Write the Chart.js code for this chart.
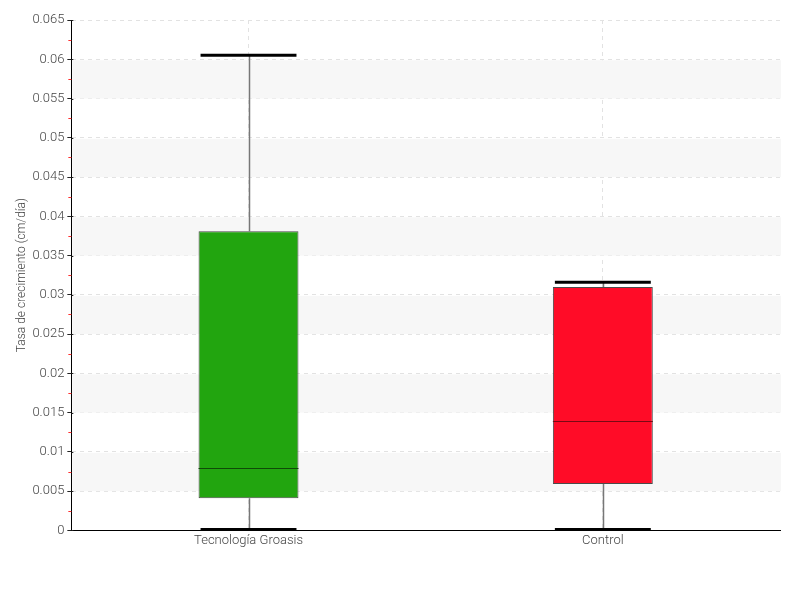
<!DOCTYPE html>
<html>
<head>
<meta charset="utf-8">
<script src="https://cdn.jsdelivr.net/npm/chart.js@4"></script>
<style>
  body { margin: 0; background: #fff; }
  #wrap { width: 800px; height: 600px; }
</style>
</head>
<body>
<div id="wrap"><canvas id="boxChart" width="800" height="600"></canvas></div>
<script>
const categories = ["Tecnología Groasis", "Control"];
const mins = [0.0001, 0.0001];
const q1s = [0.0041, 0.0059];
const medians = [0.0079, 0.0139];
const q3s = [0.0381, 0.031];
const maxs = [0.0605, 0.0316];
const boxColors = ["#22a50f", "#ff0c27"];
const medianColors = ["#0f4a08", "#7a0a14"];
const yTitle = "Tasa de crecimiento (cm/día)";

const fontFamily = "'Liberation Sans Narrow', Roboto, sans-serif";

// alternating light bands + red minor ticks on the y axis
const bandsPlugin = {
  id: "bands",
  beforeDatasetsDraw(chart) {
    const { ctx, chartArea, scales } = chart;
    const y = scales.y;
    ctx.save();
    ctx.fillStyle = "#f7f7f7";
    for (let v = 0.005; v < 0.065; v += 0.01) {
      const top = y.getPixelForValue(v + 0.005);
      const bot = y.getPixelForValue(v);
      ctx.fillRect(chartArea.left + 1, top + 1, chartArea.right - chartArea.left, bot - top - 1);
    }
    ctx.restore();
  },
  afterDraw(chart) {
    const { ctx, chartArea, scales } = chart;
    const y = scales.y;
    ctx.save();
    ctx.strokeStyle = "#ff3030";
    ctx.lineWidth = 1;
    for (let i = 0; i < 13; i++) {
      const py = Math.round(y.getPixelForValue(0.0025 + i * 0.005)) + 0.5;
      ctx.beginPath();
      ctx.moveTo(chartArea.left - 3, py);
      ctx.lineTo(chartArea.left, py);
      ctx.stroke();
    }
    ctx.strokeStyle = "#222";
    for (let i = 0; i <= 13; i++) {
      const py = Math.round(y.getPixelForValue(i * 0.005)) + 0.5;
      ctx.beginPath();
      ctx.moveTo(chartArea.left, py);
      ctx.lineTo(chartArea.left + 2, py);
      ctx.stroke();
    }
    ctx.restore();
  }
};

// whiskers, caps and medians drawn from the data
const boxPlugin = {
  id: "boxExtras",
  beforeDatasetsDraw(chart) {
    const { ctx, scales } = chart;
    const x = scales.x, y = scales.y;
    ctx.save();
    categories.forEach((c, i) => {
      const cx = Math.round(x.getPixelForValue(i)) + 0.5;
      ctx.strokeStyle = "#777";
      ctx.lineWidth = 1.5;
      ctx.beginPath();
      ctx.moveTo(cx, y.getPixelForValue(maxs[i]));
      ctx.lineTo(cx, y.getPixelForValue(q3s[i]));
      ctx.moveTo(cx, y.getPixelForValue(q1s[i]));
      ctx.lineTo(cx, y.getPixelForValue(mins[i]));
      ctx.stroke();
    });
    ctx.restore();
  },
  afterDatasetsDraw(chart) {
    const { ctx, scales } = chart;
    const x = scales.x, y = scales.y;
    const meta = chart.getDatasetMeta(0);
    ctx.save();
    categories.forEach((c, i) => {
      const bar = meta.data[i];
      const half = bar.width / 2;
      const cx = x.getPixelForValue(i);
      ctx.strokeStyle = "#000";
      ctx.lineWidth = 3;
      [maxs[i], mins[i]].forEach((v) => {
        const py = y.getPixelForValue(v);
        ctx.beginPath();
        ctx.moveTo(cx - half + 2, py);
        ctx.lineTo(cx + half - 2, py);
        ctx.stroke();
      });
      ctx.strokeStyle = medianColors[i];
      ctx.lineWidth = 1;
      const my = Math.round(y.getPixelForValue(medians[i])) + 0.5;
      ctx.beginPath();
      ctx.moveTo(cx - half, my);
      ctx.lineTo(cx + half, my);
      ctx.stroke();
    });
    ctx.restore();
  }
};

const ctx = document.getElementById("boxChart").getContext("2d");
new Chart(ctx, {
  type: "bar",
  data: {
    labels: categories,
    datasets: [
      {
        label: "Caja",
        data: q1s.map((q, i) => [q, q3s[i]]),
        backgroundColor: boxColors,
        borderColor: "#4a4a4a",
        borderWidth: 1,
        borderSkipped: false,
        categoryPercentage: 1,
        barPercentage: 0.282,
      },
    ],
  },
  options: {
    responsive: false,
    animation: false,
    layout: { padding: { top: 20, right: 20, bottom: 48, left: 7 } },
    plugins: {
      legend: { display: false },
      tooltip: { enabled: false },
    },
    scales: {
      x: {
        grid: {
          offset: false,
          color: "#e2e2e2",
          drawTicks: false,
        },
        border: { color: "#000", width: 1, dash: [4, 4] },
        ticks: {
          color: "#444",
          padding: 3,
          font: { family: fontFamily, size: 13, weight: 300 },
        },
      },
      y: {
        min: 0,
        max: 0.065,
        ticks: {
          stepSize: 0.005,
          color: "#444",
          padding: 3,
          font: { family: fontFamily, size: 13, weight: 300 },
          callback: (v) => String(Math.round(v * 1000) / 1000),
        },
        grid: {
          color: "#e2e2e2",
          tickColor: "#222",
          tickLength: 4,
          tickBorderDash: [],
        },
        border: { color: "#000", width: 1, dash: [4, 4] },
        title: {
          display: true,
          text: yTitle,
          color: "#444",
          padding: { top: 8, bottom: 0 },
          font: { family: fontFamily, size: 12, weight: 300 },
        },
      },
    },
  },
  plugins: [bandsPlugin, boxPlugin],
});
</script>
</body>
</html>
